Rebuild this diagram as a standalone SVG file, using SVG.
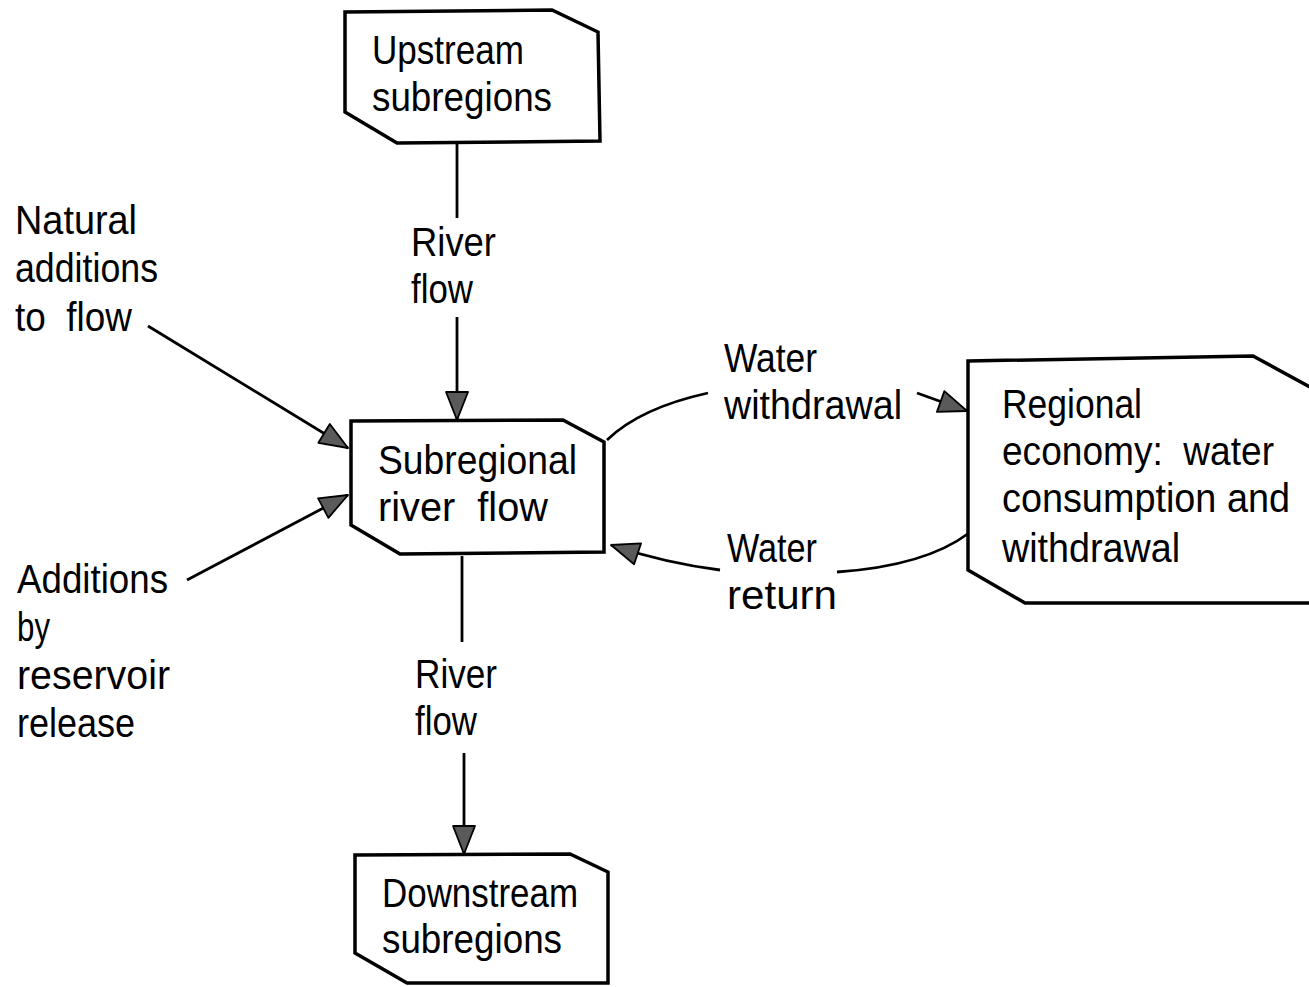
<svg xmlns="http://www.w3.org/2000/svg" width="1309" height="987" viewBox="0 0 1309 987">
<defs>
<style>
.box{fill:#fff;stroke:#000;stroke-width:3.5;stroke-linejoin:miter}
.t{font-family:"Liberation Sans","DejaVu Sans",sans-serif;font-size:40px;fill:#000}
.c{fill:none;stroke:#000;stroke-width:2.8}
</style>
<marker id="ah" markerUnits="userSpaceOnUse" markerWidth="34" markerHeight="28" refX="29" refY="12" orient="auto" overflow="visible">
<path d="M1,1 L29,12 L1,23 Z" fill="#5a5a5a" stroke="#000" stroke-width="1.8" stroke-linejoin="round"/>
</marker>
</defs>
<rect width="1309" height="987" fill="#fff"/>

<g id="connectors">
<path class="c" d="M457,143 L457,218"/>
<path class="c" d="M457,317 L457,420" marker-end="url(#ah)"/>
<path class="c" d="M462,556 L462,642"/>
<path class="c" d="M464,753 L464,854" marker-end="url(#ah)"/>
<path class="c" d="M148,326 L348,448" marker-end="url(#ah)"/>
<path class="c" d="M187,580 L348,495" marker-end="url(#ah)"/>
<path class="c" d="M607,440 Q640,408 708,393"/>
<path class="c" d="M917,393 L967,411" marker-end="url(#ah)"/>
<path class="c" d="M969,533 Q925,566 837,572"/>
<path class="c" d="M720,570 Q665,563 611,545" marker-end="url(#ah)"/>
</g>

<g id="upstream">
<polygon class="box" points="345,12 552,10 598,32 600,141 397,143 345,112"/>
<text class="t" x="372" y="64" textLength="152" lengthAdjust="spacingAndGlyphs">Upstream</text>
<text class="t" x="372" y="111" textLength="180" lengthAdjust="spacingAndGlyphs">subregions</text>
</g>

<g id="subregional">
<polygon class="box" points="351,421 563,420 604,442 604,552 400,554 351,525"/>
<text class="t" x="378" y="474" textLength="199" lengthAdjust="spacingAndGlyphs">Subregional</text>
<text class="t" x="378" y="521" textLength="170" lengthAdjust="spacingAndGlyphs" xml:space="preserve">river  flow</text>
</g>

<g id="regional">
<polygon class="box" points="968,361 1253,356 1330,398 1330,603 1025,603 968,570"/>
<text class="t" x="1002" y="418" textLength="140" lengthAdjust="spacingAndGlyphs">Regional</text>
<text class="t" x="1002" y="465" textLength="272" lengthAdjust="spacingAndGlyphs" xml:space="preserve">economy:  water</text>
<text class="t" x="1002" y="512" textLength="288" lengthAdjust="spacingAndGlyphs">consumption and</text>
<text class="t" x="1002" y="562" textLength="178" lengthAdjust="spacingAndGlyphs">withdrawal</text>
</g>

<g id="downstream">
<polygon class="box" points="355,855 570,854 608,872 608,983 407,983 355,953"/>
<text class="t" x="382" y="907" textLength="196" lengthAdjust="spacingAndGlyphs">Downstream</text>
<text class="t" x="382" y="953" textLength="180" lengthAdjust="spacingAndGlyphs">subregions</text>
</g>

<g id="natural-additions">
<text class="t" x="15" y="234" textLength="122" lengthAdjust="spacingAndGlyphs">Natural</text>
<text class="t" x="15" y="282" textLength="143" lengthAdjust="spacingAndGlyphs">additions</text>
<text class="t" x="15" y="331" textLength="117" lengthAdjust="spacingAndGlyphs" xml:space="preserve">to  flow</text>
</g>

<g id="reservoir-additions">
<text class="t" x="17" y="593" textLength="151" lengthAdjust="spacingAndGlyphs">Additions</text>
<text class="t" x="17" y="641" textLength="33" lengthAdjust="spacingAndGlyphs">by</text>
<text class="t" x="17" y="689" textLength="153" lengthAdjust="spacingAndGlyphs">reservoir</text>
<text class="t" x="17" y="737" textLength="118" lengthAdjust="spacingAndGlyphs">release</text>
</g>

<g id="labels">
<text class="t" x="411" y="256" textLength="85" lengthAdjust="spacingAndGlyphs">River</text>
<text class="t" x="411" y="303" textLength="62" lengthAdjust="spacingAndGlyphs">flow</text>
<text class="t" x="415" y="688" textLength="82" lengthAdjust="spacingAndGlyphs">River</text>
<text class="t" x="415" y="735" textLength="62" lengthAdjust="spacingAndGlyphs">flow</text>
<text class="t" x="724" y="372" textLength="93" lengthAdjust="spacingAndGlyphs">Water</text>
<text class="t" x="724" y="419" textLength="178" lengthAdjust="spacingAndGlyphs">withdrawal</text>
<text class="t" x="727" y="562" textLength="90" lengthAdjust="spacingAndGlyphs">Water</text>
<text class="t" x="727" y="609" textLength="110" lengthAdjust="spacingAndGlyphs">return</text>
</g>
</svg>
